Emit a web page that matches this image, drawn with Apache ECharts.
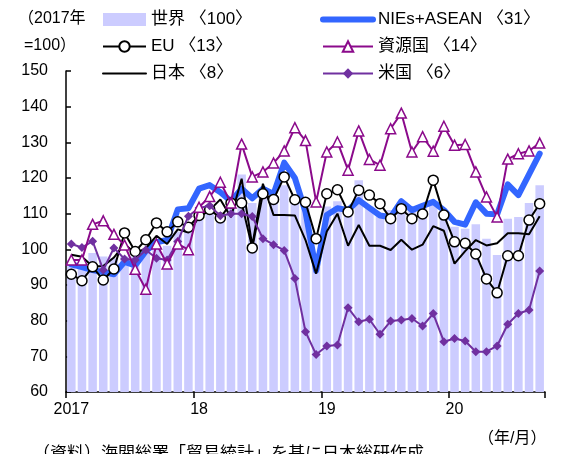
<!DOCTYPE html>
<html>
<head>
<meta charset="utf-8">
<script src="https://cdn.jsdelivr.net/npm/echarts@6/dist/echarts.min.js"></script>
<style>
  html, body { margin: 0; padding: 0; background: #ffffff; }
  #chart { width: 562px; height: 454px; }
</style>
</head>
<body>
<div id="chart"></div>
<script>
// Monthly export index by destination, 2017 = 100 (Jan 2017 – Sep 2020)
const months = [];
for (let y = 2017; y <= 2020; y++) {
  for (let m = 1; m <= 12; m++) {
    if (y === 2020 && m > 9) break;
    months.push(y + '/' + m);
  }
}
const yearLabels = ['2017', '18', '19', '20'];

const world = [
  97, 96.5, 99, 98, 97.5, 98, 98, 99, 100, 101, 105, 107,
  109.5, 110.5, 110, 112, 121, 113, 115, 115, 118, 114, 112, 99,
  112, 113.5, 112, 119.4, 112, 110, 111, 113, 111, 112, 113, 110,
  106.3, 105.8, 107, 103, 98.4, 108.6, 109.1, 113, 118
];
const niesAsean = [
  95.8, 95, 94.2, 93.6, 93, 96.5, 95.5, 99.5, 102, 102.6, 111.2, 111.5,
  117, 118, 116, 113.5, 117, 114.3, 117, 115.5, 124.3, 120, 110.5, 94,
  109.6, 111.5, 111, 113.8, 111.6, 109.5, 109, 113.5, 111, 112.2, 113.3, 111,
  107.7, 106.9, 113.2, 110, 109.8, 118.2, 115.2, 121, 126.8
];
const eu = [
  93, 91.2, 95.1, 91.4, 94.5, 104.6, 99.4, 102.7, 107.4, 104.9, 107.7, 106.2,
  109.5, 111.2, 108.8, 113, 113, 100.4, 115.6, 114, 120.3, 113.9, 113.2, 103,
  115.6, 116.7, 110.5, 116.6, 115.2, 112.8, 108.6, 111.4, 108.6, 109.9, 119.4, 109.6,
  102.1, 101.7, 98.7, 91.7, 87.8, 98.2, 98.2, 108.2, 112.8
];
const resource = [
  97, 97, 107, 108, 104.2, 101.2, 94.4, 88.8, 101.5, 95.9, 101.5, 99.9,
  111.8, 114.8, 118.8, 113, 129.5, 120.3, 121.7, 124.2, 127.6, 134.1, 130.5, 113.3,
  127.3, 130.1, 122.2, 133.2, 125.2, 123.6, 133.8, 138.2, 127.3, 131.6, 127.5, 134.5,
  129.2, 129.4, 121.7, 114.7, 109.1, 125.3, 126.8, 127.6, 129.8
];
const japan = [
  98.5, 97.9, 95.2, 95.3, 97.7, 101.5, 98.8, 100.3, 103.8, 101.5, 105.6, 104.7,
  109, 111, 114, 109, 119.8, 101, 118.4, 109.6, 109.6, 109.5, 102.6, 93.2,
  105, 110, 101, 106.8, 101, 101, 99.8, 102.7, 99.9, 101.3, 106.5, 105.2,
  96, 99.5, 102.6, 101.1, 101.7, 104.5, 104.5, 104.2, 109.3
];
const usa = [
  101.5, 100.5, 102.3, 94.2, 100.4, 97.3, 97, 99.8, 97.5, 97, 102.2, 109.3,
  111.6, 112.2, 109.4, 110, 110, 109.2, 103, 101.3, 99.7, 91.8, 76.9, 70.5,
  72.9, 73.2, 83.6, 79.7, 80.4, 76.2, 79.9, 80.2, 80.6, 78.5, 82, 74.1,
  75, 74.3, 71.3, 71.3, 72.9, 79, 82, 83, 93.9
];

// Share weights shown in the legend
const weights = { '世界': 100, 'NIEs+ASEAN': 31, 'EU': 13, '資源国': 14, '日本': 8, '米国': 6 };

const FONT = '"Liberation Sans", "Noto Sans CJK JP", sans-serif';
const chart = echarts.init(document.getElementById('chart'), null, { renderer: 'canvas' });

const legendText = { fontSize: 17, color: '#000', fontFamily: FONT };
// plain line in the legend for series drawn without markers
const plainLine = (name, width) => ({
  name: name,
  itemStyle: { opacity: 0 },
  lineStyle: { width: width, cap: 'round' }
});

chart.setOption({
  animation: false,
  textStyle: { fontFamily: FONT },
  grid: { left: 66, right: 17, top: 71, bottom: 62 },
  legend: [
    {
      data: [{ name: '世界', icon: 'rect' }, 'EU', plainLine('日本', 2)],
      orient: 'vertical', left: 97, top: 6,
      itemWidth: 43, itemHeight: 13, itemGap: 10,
      textStyle: legendText,
      formatter: n => n + ' 〈' + weights[n] + '〉',
      selectedMode: false
    },
    {
      data: [plainLine('NIEs+ASEAN', 6), '資源国', '米国'],
      orient: 'vertical', left: 315, top: 6,
      itemWidth: 50, itemHeight: 13, itemGap: 10,
      textStyle: legendText,
      formatter: n => n + ' 〈' + weights[n] + '〉',
      selectedMode: false
    }
  ],
  xAxis: {
    type: 'category',
    data: months,
    boundaryGap: true,
    axisLine: { lineStyle: { color: '#000', width: 1.5 } },
    axisTick: { show: true, interval: 11, length: 6, lineStyle: { color: '#000', width: 1.5 } },
    axisLabel: {
      interval: 11, color: '#000', fontSize: 16, margin: 10, fontFamily: FONT,
      formatter: (v, i) => yearLabels[Math.floor(i / 12)]
    }
  },
  yAxis: {
    type: 'value',
    min: 60, max: 150, interval: 10,
    axisLine: { show: true, lineStyle: { color: '#000', width: 1.5 } },
    axisTick: { show: true, inside: true, length: 5, lineStyle: { color: '#000', width: 1.5 } },
    splitLine: { show: false },
    axisLabel: { color: '#000', fontSize: 16, margin: 18, fontFamily: FONT }
  },
  series: [
    {
      name: '世界', type: 'bar', data: world, barCategoryGap: '20%',
      itemStyle: { color: '#ccccff' }, z: 1
    },
    {
      name: 'NIEs+ASEAN', type: 'line', data: niesAsean, symbol: 'none',
      lineStyle: { color: '#3366ff', width: 6, cap: 'round', join: 'round' },
      itemStyle: { color: '#3366ff' }, z: 2
    },
    {
      name: '日本', type: 'line', data: japan, symbol: 'none',
      lineStyle: { color: '#000', width: 2 }, itemStyle: { color: '#000' }, z: 3
    },
    {
      name: 'EU', type: 'line', data: eu, symbol: 'circle', symbolSize: 10, showAllSymbol: true,
      lineStyle: { color: '#000', width: 2 },
      itemStyle: { color: '#fff', borderColor: '#000', borderWidth: 1.5 }, z: 4
    },
    {
      name: '米国', type: 'line', data: usa, symbol: 'diamond', symbolSize: 9, showAllSymbol: true,
      lineStyle: { color: '#7030a0', width: 2 },
      itemStyle: { color: '#7030a0' }, z: 5
    },
    {
      name: '資源国', type: 'line', data: resource, symbol: 'triangle', symbolSize: 10, showAllSymbol: true,
      lineStyle: { color: '#8b0a8b', width: 2 },
      itemStyle: { color: '#fff', borderColor: '#8b0a8b', borderWidth: 1.5 }, z: 6
    }
  ],
  graphic: [
    { type: 'text', left: 18, top: 11, style: { text: '（2017年', fontSize: 16, fill: '#000', fontFamily: FONT } },
    { type: 'text', left: 24, top: 38, style: { text: '=100）', fontSize: 16, fill: '#000', fontFamily: FONT } },
    { type: 'text', left: 478, top: 431, style: { text: '（年/月）', fontSize: 16, fill: '#000', fontFamily: FONT } },
    { type: 'text', left: 33, top: 446, style: { text: '（資料）海関総署「貿易統計」を基に日本総研作成', fontSize: 17, fill: '#000', fontFamily: FONT } }
  ]
});
</script>
</body>
</html>
